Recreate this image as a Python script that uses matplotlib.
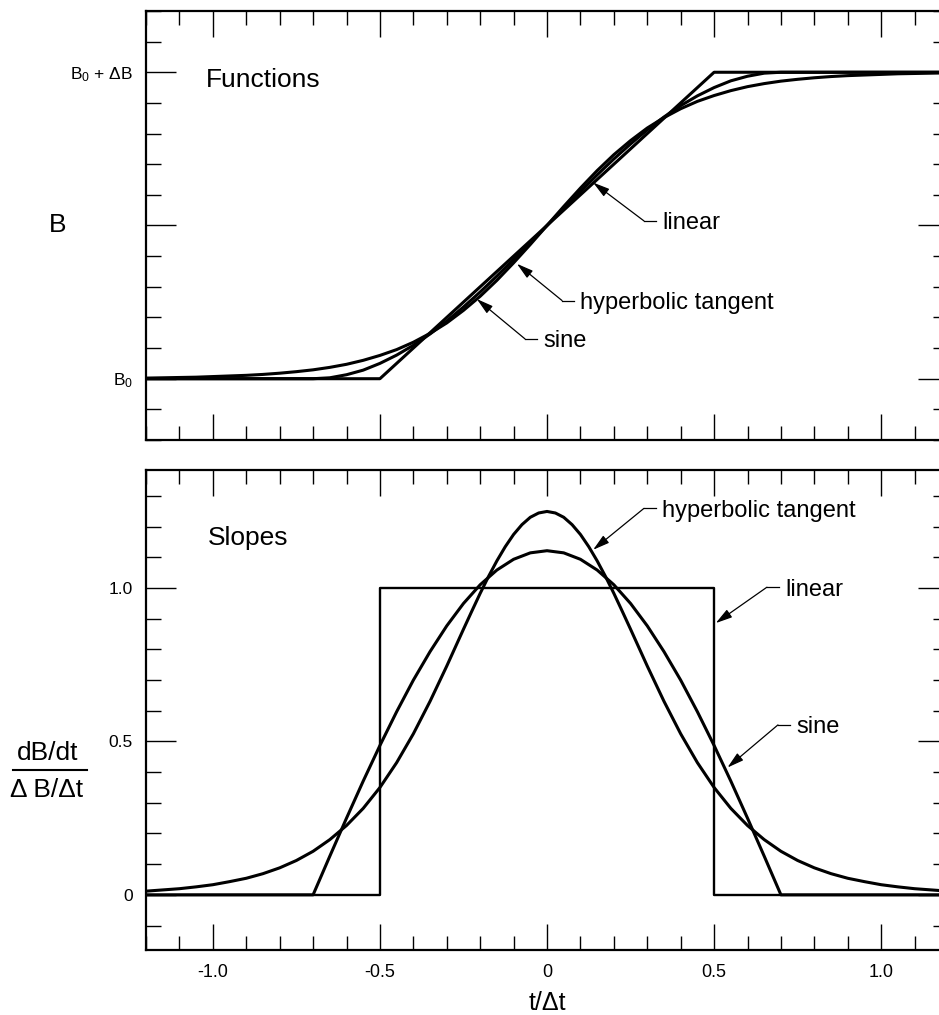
import numpy as np
import matplotlib.pyplot as plt
from matplotlib.lines import Line2D
from matplotlib.ticker import MultipleLocator

plt.rcParams['font.family'] = ['Liberation Sans', 'DejaVu Sans']
plt.rcParams['mathtext.fontset'] = 'custom'
plt.rcParams['mathtext.rm'] = 'Liberation Sans'
plt.rcParams['mathtext.it'] = 'Liberation Sans:italic'

# sample positions t/dt, every 0.05 from -1.2 to 1.2
t = np.linspace(-1.2, 1.2, 49)
# the tanh slope is sampled more densely around its peak
t_peak = np.concatenate([t[t < -0.24], np.linspace(-0.225, 0.225, 19), t[t > 0.24]])

# B(t), normalised so that B0 -> 0 and B0 + dB -> 1
b_tanh = [0.002, 0.003, 0.004, 0.005, 0.007, 0.009, 0.011, 0.014, 0.018, 0.023,
          0.029, 0.037, 0.047, 0.060, 0.076, 0.095, 0.119, 0.148, 0.182, 0.223,
          0.269, 0.321, 0.378, 0.438,
          0.500,
          0.562, 0.622, 0.679, 0.731, 0.777, 0.818, 0.852, 0.881, 0.905, 0.924,
          0.940, 0.953, 0.963, 0.971, 0.977, 0.982, 0.986, 0.989, 0.991, 0.993,
          0.995, 0.996, 0.997, 0.998]
b_sine = [0.000, 0.000, 0.000, 0.000, 0.000, 0.000, 0.000, 0.000, 0.000, 0.000,
          0.000, 0.003, 0.013, 0.028, 0.050, 0.077, 0.109, 0.146, 0.188, 0.234,
          0.283, 0.335, 0.389, 0.444,
          0.500,
          0.556, 0.611, 0.665, 0.717, 0.766, 0.812, 0.854, 0.891, 0.923, 0.950,
          0.972, 0.987, 0.997, 1.000, 1.000, 1.000, 1.000, 1.000, 1.000, 1.000,
          1.000, 1.000, 1.000, 1.000]
t_lin = [-1.2, -0.5, 0.5, 1.2]
b_lin = [0.0, 0.0, 1.0, 1.0]

# dB/dt divided by dB/dt_mean
s_tanh = [0.012, 0.016, 0.020, 0.026, 0.033, 0.043, 0.054, 0.069, 0.088, 0.112,
          0.142, 0.180, 0.226, 0.282, 0.350, 0.431, 0.525, 0.631, 0.746, 0.866,
          0.925, 0.983, 1.038, 1.089, 1.135, 1.175, 1.207, 1.231, 1.245,
          1.250,
          1.245, 1.231, 1.207, 1.175, 1.135, 1.089, 1.038, 0.983, 0.925,
          0.866, 0.746, 0.631, 0.525, 0.431, 0.350, 0.282, 0.226, 0.180, 0.142,
          0.112, 0.088, 0.069, 0.054, 0.043, 0.033, 0.026, 0.020, 0.016, 0.012]
s_sine = [0.000, 0.000, 0.000, 0.000, 0.000, 0.000, 0.000, 0.000, 0.000, 0.000,
          0.000, 0.126, 0.250, 0.371, 0.487, 0.597, 0.700, 0.793, 0.877, 0.950,
          1.011, 1.059, 1.094, 1.115,
          1.122,
          1.115, 1.094, 1.059, 1.011, 0.950, 0.877, 0.793, 0.700, 0.597, 0.487,
          0.371, 0.250, 0.126, 0.000, 0.000, 0.000, 0.000, 0.000, 0.000, 0.000,
          0.000, 0.000, 0.000, 0.000]
t_step = [-1.2, -0.5, -0.5, 0.5, 0.5, 1.2]
s_lin = [0.0, 0.0, 1.0, 1.0, 0.0, 0.0]

x_ticks = [-1.0, -0.5, 0.0, 0.5, 1.0]
x_labels = ['-1.0', '-0.5', '0', '0.5', '1.0']
b_ticks = [0.0, 0.5, 1.0]
b_labels = [r'$\mathregular{B_0}$', '', r'$\mathregular{B_0}$ + ΔB']
s_ticks = [0.0, 0.5, 1.0]
s_labels = ['0', '0.5', '1.0']


def style_axes(ax):
    for sp in ax.spines.values():
        sp.set_linewidth(1.6)
    ax.set_xlim(-1.2, 1.2)
    ax.set_xticks(x_ticks)
    ax.xaxis.set_minor_locator(MultipleLocator(0.1))
    ax.yaxis.set_minor_locator(MultipleLocator(0.1))
    ax.tick_params(which='both', direction='in', top=True, right=True,
                   width=1.0, color='black')
    ax.tick_params(axis='x', which='major', length=19, pad=10, labelsize=13)
    ax.tick_params(axis='x', which='minor', length=10)
    ax.tick_params(axis='y', which='major', length=21.5, pad=9.5, labelsize=12.5)
    ax.tick_params(axis='y', which='minor', length=11)


def leader(ax, label, tip, text_xy):
    # short horizontal stub next to the label, then an arrow down to the curve
    tx, ty = text_xy
    elbow = (tx - 0.054, ty)
    ax.plot([elbow[0], tx - 0.018], [ty, ty], color='black', lw=0.9)
    ax.annotate('', xy=tip, xytext=elbow,
                arrowprops=dict(arrowstyle='-|>,head_length=1.0,head_width=0.28',
                                mutation_scale=10, color='black', lw=0.9,
                                shrinkA=0, shrinkB=0))
    ax.text(tx, ty, label, fontsize=17, ha='left', va='center_baseline')


fig = plt.figure(figsize=(9.39, 10.15), dpi=100)
ax_f = fig.add_axes([0.1555, 0.5665, 0.8541, 0.4227])
ax_s = fig.add_axes([0.1555, 0.0640, 0.8541, 0.4729])

# top panel: the transition functions
ax_f.plot(t_lin, b_lin, color='black', lw=2.2)
ax_f.plot(t, b_tanh, color='black', lw=2.2)
ax_f.plot(t, b_sine, color='black', lw=2.2)
style_axes(ax_f)
ax_f.set_ylim(-0.2, 1.2)
ax_f.set_yticks(b_ticks, labels=b_labels)
ax_f.tick_params(axis='x', labelbottom=False)
ax_f.set_ylabel('B', rotation=0, fontsize=19, ha='center', va='center')
ax_f.yaxis.set_label_coords(-0.11, 0.5)
ax_f.text(-1.02, 0.974, 'Functions', fontsize=19, ha='left', va='center')
leader(ax_f, 'linear', (0.138, 0.64), (0.344, 0.515))
leader(ax_f, 'hyperbolic tangent', (-0.09, 0.375), (0.099, 0.255))
leader(ax_f, 'sine', (-0.21, 0.26), (-0.012, 0.13))

# bottom panel: the slopes
ax_s.plot(t_step, s_lin, color='black', lw=1.7)
ax_s.plot(t_peak, s_tanh, color='black', lw=2.2)
ax_s.plot(t, s_sine, color='black', lw=2.2)
style_axes(ax_s)
ax_s.set_ylim(-0.18, 1.385)
ax_s.set_yticks(s_ticks, labels=s_labels)
ax_s.set_xticklabels(x_labels)
ax_s.set_xlabel('t/Δt', fontsize=18, labelpad=7)
ax_s.text(-1.016, 1.163, 'Slopes', fontsize=19, ha='left', va='center')
leader(ax_s, 'hyperbolic tangent', (0.138, 1.125), (0.344, 1.26))
leader(ax_s, 'linear', (0.505, 0.886), (0.712, 1.003))
leader(ax_s, 'sine', (0.54, 0.415), (0.745, 0.554))

# y label of the slope panel written as a fraction
fig.text(0.0511, 0.2581, 'dB/dt', fontsize=19, ha='center', va='center')
fig.text(0.0500, 0.2217, 'Δ B/Δt', fontsize=19, ha='center', va='center')
fig.add_artist(Line2D([0.0138, 0.0927], [0.2414, 0.2414], color='black', lw=1.5))

fig.savefig('out.png', dpi=100)
